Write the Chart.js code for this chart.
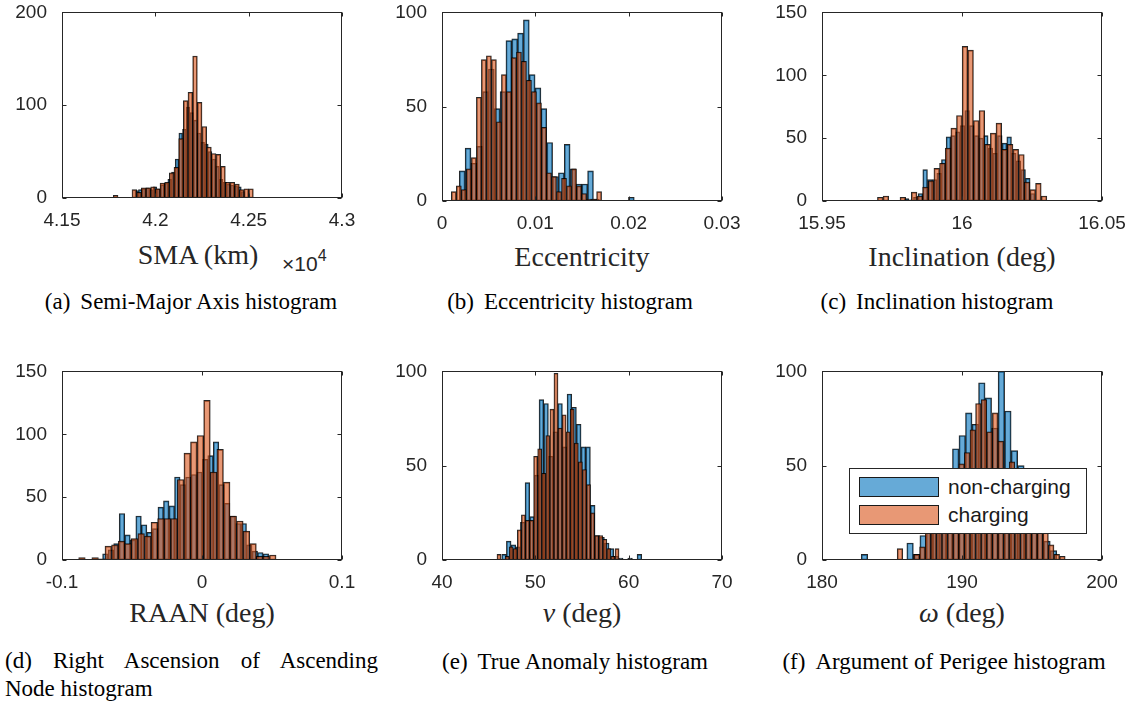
<!DOCTYPE html>
<html>
<head>
<meta charset="utf-8">
<title>Orbital element histograms</title>
<script src="https://cdn.jsdelivr.net/npm/chart.js@4.4.0/dist/chart.umd.min.js"></script>
<style>
  html, body { margin: 0; padding: 0; background: #fff; }
  body { width: 1138px; height: 706px; position: relative; overflow: hidden; }
  canvas.panel { position: absolute; }
  .xlabel {
    position: absolute; transform: translate(-50%, -50%); white-space: nowrap;
    font-family: 'Liberation Serif', 'Times New Roman', serif; font-size: 28px; color: #262626;
  }
  .expo { position: absolute; font-family: 'Liberation Sans', Arial, sans-serif; font-size: 21px; color: #262626; white-space: nowrap; }
  .expo sup { font-size: 16px; position: relative; top: -2px; }
  .cap {
    position: absolute; transform: translate(-50%, -50%); white-space: nowrap;
    font-family: 'Liberation Serif', 'Times New Roman', serif; font-size: 23px; color: #000;
  }
  .cap .tag { margin-right: 10px; }
  .capline {
    position: absolute; font-family: 'Liberation Serif', 'Times New Roman', serif; font-size: 23px; color: #000;
  }
  .legend {
    position: absolute; left: 849px; top: 468px; width: 236px; height: 64px;
    background: #fff; border: 1px solid #262626;
  }
  .legend .sw { position: absolute; left: 9px; width: 78px; height: 18px; border: 1.5px solid #1a1a1a; }
  .legend .lt {
    position: absolute; left: 98px; font-family: 'Liberation Sans', Arial, sans-serif; font-size: 21px; color: #1a1a1a;
    transform: translateY(-50%); white-space: nowrap;
  }
</style>
</head>
<body>

<div class="xlabel" style="left:198px; top:255px;">SMA (km)</div>
<div class="expo" style="left:282px; top:249px;">&times;10<sup>4</sup></div>
<div class="xlabel" style="left:582px; top:257px;">Eccentricity</div>
<div class="xlabel" style="left:962px; top:257px;">Inclination (deg)</div>
<div class="xlabel" style="left:202px; top:613px;">RAAN (deg)</div>
<div class="xlabel" style="left:582px; top:613px;"><i>ν</i> (deg)</div>
<div class="xlabel" style="left:962px; top:613px;"><i>ω</i> (deg)</div>

<div class="cap" style="left:191px; top:302px;"><span class="tag">(a)</span>Semi-Major Axis histogram</div>
<div class="cap" style="left:570px; top:302px;"><span class="tag">(b)</span>Eccentricity histogram</div>
<div class="cap" style="left:937px; top:302px;"><span class="tag">(c)</span>Inclination histogram</div>
<div class="capline" style="left:5px; top:648px; width:373px; text-align:justify; text-align-last:justify;">(d) Right Ascension of Ascending</div>
<div class="capline" style="left:5px; top:676px;">Node histogram</div>
<div class="cap" style="left:575px; top:662px;"><span class="tag">(e)</span>True Anomaly histogram</div>
<div class="cap" style="left:944px; top:662px;"><span class="tag">(f)</span>Argument of Perigee histogram</div>

<script>
// 30 bins per run, spread evenly between the run's smallest and largest sample
// "NC" = non-charging, "C" = charging

// semi-major axis (km)
const smaRangeNC = [41890, 42480];
const smaCountsNC = [8, 9, 10, 11, 9, 12, 10, 14, 16, 20, 28, 42, 70, 74, 98, 92, 84, 70, 60, 58, 50, 42, 34, 20, 17, 15, 14, 13, 12, 7];
const smaRangeC = [41775, 42525];
const smaCountsC = [3, 0, 0, 0, 9, 6, 11, 11, 12, 10, 16, 17, 27, 33, 64, 105, 114, 153, 103, 77, 55, 48, 47, 34, 17, 17, 15, 9, 10, 10];
const smaTicks = [41500, 42000, 42500, 43000];
const smaTickLabels = ['4.15', '4.2', '4.25', '4.3'];
const smaCountTicks = [0, 100, 200];

// eccentricity
const eccRangeNC = [0.00185, 0.0206];
const eccCountsNC = [16, 28, 20, 29, 58, 70, 49, 58, 85, 86, 89, 96, 67, 60, 49, 31, 13, 15, 30, 17, 9, 9, 16, 1, 0, 0, 0, 0, 0, 2];
const eccRangeC = [0.0010, 0.0171];
const eccCountsC = [5, 8, 6, 17, 23, 55, 75, 77, 75, 42, 67, 58, 76, 79, 74, 64, 58, 52, 39, 15, 13, 5, 12, 8, 17, 8, 4, 1, 1, 5];
const eccTicks = [0, 0.01, 0.02, 0.03];
const eccTickLabels = ['0', '0.01', '0.02', '0.03'];
const eccCountTicks = [0, 50, 100];

// inclination (deg)
const incRangeNC = [15.976, 16.026];
const incCountsNC = [0, 0, 2, 0, 3, 6, 25, 17, 17, 22, 33, 51, 52, 55, 60, 72, 60, 52, 50, 52, 42, 38, 52, 46, 51, 38, 32, 25, 18, 6];
const incRangeC = [15.9698, 16.0303];
const incCountsC = [3, 4, 0, 0, 3, 1, 7, 4, 11, 16, 26, 30, 42, 58, 68, 123, 120, 64, 72, 45, 54, 62, 41, 45, 41, 37, 15, 9, 14, 4];
const incTicks = [15.95, 16, 16.05];
const incTickLabels = ['15.95', '16', '16.05'];
const incCountTicks = [0, 50, 100, 150];

// right ascension of ascending node (deg)
const raanRangeNC = [-0.071, 0.0476];
const raanCountsNC = [5, 8, 13, 37, 20, 16, 35, 28, 22, 25, 42, 47, 43, 66, 60, 66, 68, 70, 80, 83, 94, 60, 45, 35, 29, 29, 12, 7, 6, 5];
const raanRangeC = [-0.0881, 0.0529];
const raanCountsC = [2, 0, 2, 1, 11, 12, 15, 13, 17, 21, 19, 30, 33, 33, 33, 64, 85, 94, 99, 127, 70, 88, 62, 35, 31, 23, 13, 3, 3, 4];
const raanTicks = [-0.1, 0, 0.1];
const raanTickLabels = ['-0.1', '0', '0.1'];
const raanCountTicks = [0, 50, 100, 150];

// true anomaly (deg)
const nuRangeNC = [46.4, 61.4];
const nuCountsNC = [3, 10, 8, 7, 20, 41, 23, 45, 85, 83, 55, 68, 83, 60, 88, 81, 72, 60, 60, 29, 13, 12, 9, 6, 2, 1, 0, 1, 0, 3];
const nuRangeC = [45.89, 58.97];
const nuCountsC = [3, 0, 2, 7, 6, 16, 24, 21, 21, 55, 59, 46, 66, 80, 99, 70, 77, 68, 80, 62, 52, 48, 40, 25, 13, 13, 11, 6, 2, 6];
const nuTicks = [40, 50, 60, 70];
const nuTickLabels = ['40', '50', '60', '70'];
const nuCountTicks = [0, 50, 100];

// argument of perigee (deg)
const omegaRangeNC = [182.8, 196.77];
const omegaCountsNC = [3, 0, 0, 0, 0, 0, 0, 9, 3, 13, 20, 28, 36, 45, 59, 66, 78, 72, 94, 86, 70, 100, 79, 58, 50, 35, 25, 18, 10, 5];
const omegaRangeC = [185.37, 197.37];
const omegaCountsC = [6, 0, 0, 3, 7, 20, 25, 30, 36, 42, 46, 51, 57, 69, 83, 85, 68, 78, 63, 45, 52, 38, 30, 25, 20, 18, 15, 8, 3, 2];
const omegaTicks = [180, 190, 200];
const omegaTickLabels = ['180', '190', '200'];
const omegaCountTicks = [0, 50, 100];

const seriesNames = ['non-charging', 'charging'];

const blueFace = 'rgba(0, 114, 189, 0.6)';
const orangeFace = 'rgba(217, 83, 25, 0.6)';
const edgeColor = 'rgba(0, 0, 0, 0.85)';
const axisColor = '#262626';
const tickFont = { family: "'Liberation Sans', Arial, sans-serif", size: 19 };

// axes frame: plot box plus inward ticks on all four sides
const boxTicks = {
    id: 'boxTicks',
    afterDraw(chart) {
        const { ctx, chartArea: a } = chart;
        const xs = chart.scales.x, ys = chart.scales.y;
        const L = Math.round(a.left) + 0.5, R = Math.round(a.right) - 0.5;
        const T = Math.round(a.top) + 0.5, B = Math.round(a.bottom) - 0.5;
        ctx.save();
        ctx.strokeStyle = axisColor;
        ctx.lineWidth = 1;
        ctx.strokeRect(L, T, R - L, B - T);
        ctx.beginPath();
        xs.ticks.forEach(t => {
            const p = Math.round(xs.getPixelForValue(t.value)) + 0.5;
            ctx.moveTo(p, B); ctx.lineTo(p, B - 4);
            ctx.moveTo(p, T); ctx.lineTo(p, T + 4);
        });
        ys.ticks.forEach(t => {
            const p = Math.round(ys.getPixelForValue(t.value)) + 0.5;
            ctx.moveTo(L, p); ctx.lineTo(L + 4, p);
            ctx.moveTo(R, p); ctx.lineTo(R - 4, p);
        });
        ctx.stroke();
        ctx.restore();
    }
};

function binPoints(range, counts) {
    const w = (range[1] - range[0]) / counts.length;
    return counts.map((c, i) => ({ x: range[0] + w * (i + 0.5), y: c }));
}

function histDataset(label, range, counts, face, axisId, order) {
    return {
        label: label,
        data: binPoints(range, counts),
        xAxisID: axisId,
        backgroundColor: face,
        borderColor: edgeColor,
        borderWidth: 1,
        borderSkipped: false,
        barPercentage: 1,
        categoryPercentage: 1,
        grouped: false,
        order: order
    };
}

const Y_AXIS_W = 62, PAD_TOP = 14, PAD_RIGHT = 28, X_AXIS_H = 34, PLOT_W = 280;

function drawPanel(p) {
    const canvas = document.createElement('canvas');
    const w = Y_AXIS_W + PLOT_W + PAD_RIGHT;
    const h = PAD_TOP + p.plotH + X_AXIS_H;
    canvas.width = w; canvas.height = h;
    canvas.style.width = w + 'px'; canvas.style.height = h + 'px';
    canvas.style.left = (p.left - Y_AXIS_W) + 'px';
    canvas.style.top = (p.top - PAD_TOP) + 'px';
    canvas.className = 'panel';
    document.body.appendChild(canvas);

    const xMin = p.xTicks[0], xMax = p.xTicks[p.xTicks.length - 1];
    const yMax = p.yTicks[p.yTicks.length - 1];

    new Chart(canvas, {
        type: 'bar',
        data: {
            datasets: [
                // each run has its own bin width, so each sits on its own (shared-range) x scale
                histDataset(seriesNames[0], p.ncRange, p.ncCounts, blueFace, 'xb', 1),
                histDataset(seriesNames[1], p.cRange, p.cCounts, orangeFace, 'x', 0)
            ]
        },
        options: {
            responsive: false,
            animation: false,
            devicePixelRatio: 1,
            layout: { padding: { left: 0, right: PAD_RIGHT, top: PAD_TOP, bottom: 0 } },
            plugins: { legend: { display: false }, tooltip: { enabled: false } },
            scales: {
                x: {
                    type: 'linear', min: xMin, max: xMax, offset: false,
                    grid: { display: false }, border: { display: false },
                    afterBuildTicks: s => { s.ticks = p.xTicks.map(v => ({ value: v })); },
                    afterFit: s => { s.height = X_AXIS_H; },
                    ticks: {
                        autoSkip: false, maxRotation: 0, padding: 3,
                        color: axisColor, font: tickFont,
                        callback: (v, i) => p.xLabels[i]
                    }
                },
                xb: { type: 'linear', display: false, min: xMin, max: xMax, offset: false },
                y: {
                    min: 0, max: yMax,
                    grid: { display: false }, border: { display: false },
                    afterBuildTicks: s => { s.ticks = p.yTicks.map(v => ({ value: v })); },
                    afterFit: s => { s.width = Y_AXIS_W; },
                    ticks: {
                        autoSkip: false, padding: 7, color: axisColor, font: tickFont,
                        callback: v => String(v)
                    }
                }
            }
        },
        plugins: [boxTicks]
    });
}

const panels = [
    { left: 62, top: 8, plotH: 190, ncRange: smaRangeNC, ncCounts: smaCountsNC, cRange: smaRangeC, cCounts: smaCountsC,
      xTicks: smaTicks, xLabels: smaTickLabels, yTicks: smaCountTicks },
    { left: 442, top: 8, plotH: 193, ncRange: eccRangeNC, ncCounts: eccCountsNC, cRange: eccRangeC, cCounts: eccCountsC,
      xTicks: eccTicks, xLabels: eccTickLabels, yTicks: eccCountTicks },
    { left: 822, top: 8, plotH: 193, ncRange: incRangeNC, ncCounts: incCountsNC, cRange: incRangeC, cCounts: incCountsC,
      xTicks: incTicks, xLabels: incTickLabels, yTicks: incCountTicks },
    { left: 62, top: 367, plotH: 193, ncRange: raanRangeNC, ncCounts: raanCountsNC, cRange: raanRangeC, cCounts: raanCountsC,
      xTicks: raanTicks, xLabels: raanTickLabels, yTicks: raanCountTicks },
    { left: 442, top: 367, plotH: 193, ncRange: nuRangeNC, ncCounts: nuCountsNC, cRange: nuRangeC, cCounts: nuCountsC,
      xTicks: nuTicks, xLabels: nuTickLabels, yTicks: nuCountTicks },
    { left: 822, top: 367, plotH: 193, ncRange: omegaRangeNC, ncCounts: omegaCountsNC, cRange: omegaRangeC, cCounts: omegaCountsC,
      xTicks: omegaTicks, xLabels: omegaTickLabels, yTicks: omegaCountTicks }
];

panels.forEach(drawPanel);

// legend box inside the last panel
const legend = document.createElement('div');
legend.className = 'legend';
legend.innerHTML =
    '<div class="sw" style="top:8px; background:' + blueFace + ';"></div>' +
    '<div class="lt" style="top:18px;">' + seriesNames[0] + '</div>' +
    '<div class="sw" style="top:35.5px; background:' + orangeFace + ';"></div>' +
    '<div class="lt" style="top:45.5px;">' + seriesNames[1] + '</div>';
document.body.appendChild(legend);
</script>
</body>
</html>
